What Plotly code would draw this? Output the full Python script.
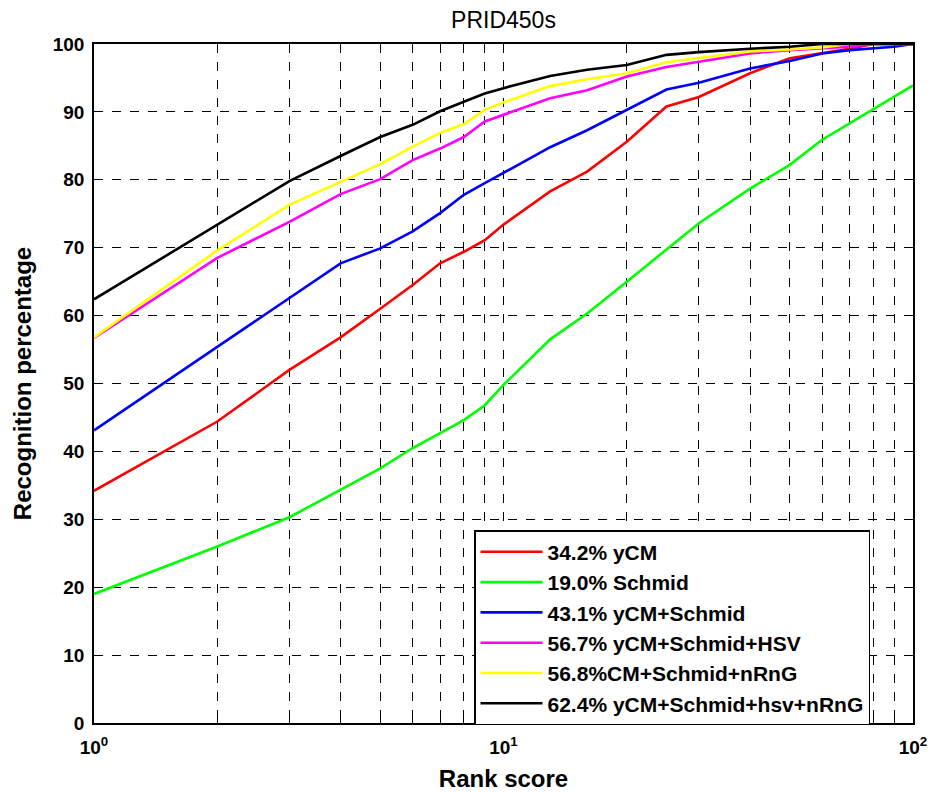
import plotly.graph_objects as go

ranks = [1, 2, 3, 4, 5, 6, 7, 8, 9, 10, 13, 16, 20, 25, 30, 40, 50, 60, 70, 80, 90, 100]
ycm = [34.2, 44.4, 52.0, 56.8, 61.0, 64.5, 67.7, 69.4, 71.1, 73.4, 78.3, 81.2, 85.6, 90.8, 92.2, 95.7, 97.9, 98.7, 99.3, 100, 100, 100]
schmid = [19.0, 26.0, 30.3, 34.4, 37.5, 40.5, 42.7, 44.6, 46.8, 49.8, 56.5, 60.3, 65.0, 69.8, 73.6, 78.7, 82.2, 85.9, 88.3, 90.3, 92.2, 93.9]
ycm_schmid = [43.1, 55.4, 62.5, 67.7, 69.9, 72.4, 75.1, 77.8, 79.5, 81.0, 84.8, 87.3, 90.3, 93.3, 94.3, 96.4, 97.5, 98.6, 99.1, 99.4, 99.6, 100]
ycm_schmid_hsv = [56.7, 68.5, 73.8, 77.9, 80.1, 82.9, 84.6, 86.3, 88.6, 89.6, 92.0, 93.2, 95.2, 96.6, 97.4, 98.6, 99.1, 99.4, 99.6, 100, 100, 100]
cm_schmid_nrng = [56.8, 69.6, 76.3, 79.7, 82.3, 84.9, 86.9, 88.2, 90.3, 91.4, 93.8, 94.8, 95.7, 97.3, 97.9, 98.9, 99.2, 99.5, 100, 100, 100, 100]
all_four = [62.4, 73.3, 79.8, 83.5, 86.3, 88.1, 90.1, 91.5, 92.7, 93.5, 95.3, 96.2, 96.9, 98.4, 98.8, 99.3, 99.6, 100, 100, 100, 100, 100]

names = ["34.2% yCM", "19.0% Schmid", "43.1% yCM+Schmid", "56.7% yCM+Schmid+HSV",
         "56.8%CM+Schmid+nRnG", "62.4% yCM+Schmid+hsv+nRnG"]
series = [ycm, schmid, ycm_schmid, ycm_schmid_hsv, cm_schmid_nrng, all_four]
colors = ["#ff0000", "#00ff00", "#0000ff", "#ff00ff", "#ffff00", "#000000"]

x_tickvals = [1, 2, 3, 4, 5, 6, 7, 8, 9, 10, 20, 30, 40, 50, 60, 70, 80, 90, 100]
x_ticktext = ["10<sup>0</sup>"] + [""] * 8 + ["10<sup>1</sup>"] + [""] * 8 + ["10<sup>2</sup>"]
y_tickvals = [0, 10, 20, 30, 40, 50, 60, 70, 80, 90, 100]

FONT = "Arial, Liberation Sans, sans-serif"
W, H = 935, 792

fig = go.Figure()
for name, vals, col in zip(names, series, colors):
    fig.add_trace(go.Scatter(x=ranks, y=vals, mode="lines", name=name,
                             line=dict(color=col, width=2.6)))

fig.update_layout(
    width=W, height=H,
    margin=dict(l=94, r=22, t=44, b=69, autoexpand=False),
    paper_bgcolor="white", plot_bgcolor="white",
    title=dict(text="PRID450s", x=0.5, xanchor="center", xref="paper",
               y=1 - 20 / H, yanchor="middle",
               font=dict(family=FONT, size=23, color="black")),
    font=dict(family=FONT, color="black"),
    legend=dict(x=0.464, y=0.284, xanchor="left", yanchor="top",
                bgcolor="white", bordercolor="black", borderwidth=1.5,
                font=dict(family=FONT, size=21, color="black", weight="bold"),
                itemwidth=62),
    showlegend=True,
)
fig.update_xaxes(
    type="log", range=[0, 2],
    tickvals=x_tickvals, ticktext=x_ticktext,
    tickfont=dict(family=FONT, size=19, color="black", weight="bold"),
    ticklabelstandoff=6,
    showgrid=True, gridcolor="black", griddash="dash", gridwidth=1,
    showline=True, linecolor="black", linewidth=1.5, mirror="ticks",
    ticks="inside", ticklen=5, tickcolor="black",
    title=dict(text="Rank score", font=dict(family=FONT, size=24, color="black", weight="bold"), standoff=14),
    zeroline=False,
)
fig.update_yaxes(
    range=[0, 100], tickvals=y_tickvals,
    tickfont=dict(family=FONT, size=19, color="black", weight="bold"),
    ticklabelstandoff=4,
    showgrid=True, gridcolor="black", griddash="dash", gridwidth=1,
    showline=True, linecolor="black", linewidth=1.5, mirror="ticks",
    ticks="inside", ticklen=5, tickcolor="black",
    title=dict(text="Recognition percentage", font=dict(family=FONT, size=24, color="black", weight="bold"), standoff=14),
    zeroline=False,
)

fig.write_html("out.html", config={"displayModeBar": False},
               post_script="document.body.style.margin='0';document.body.style.overflow='hidden';")
